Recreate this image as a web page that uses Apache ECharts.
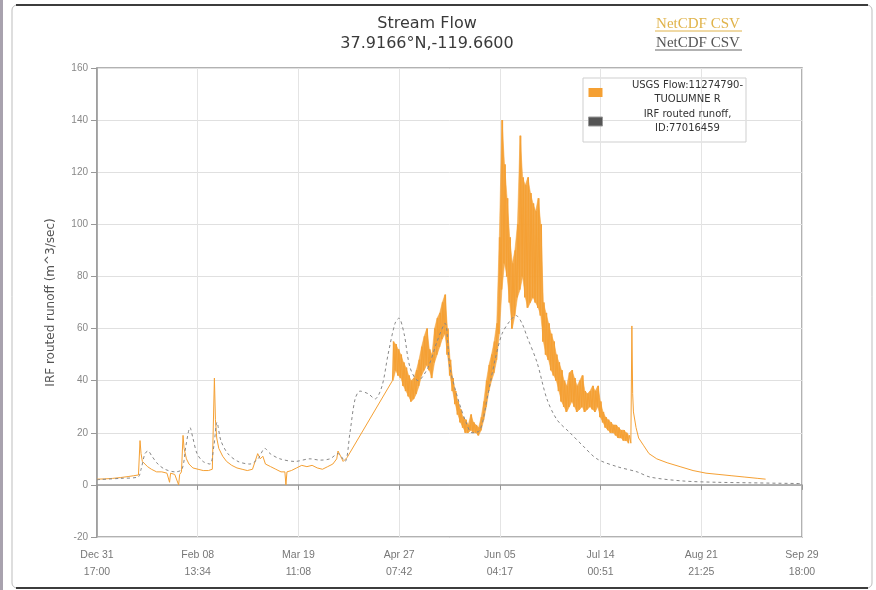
<!DOCTYPE html>
<html>
<head>
<meta charset="utf-8">
<script src="https://cdn.jsdelivr.net/npm/echarts@6/dist/echarts.min.js"></script>
<style>
html,body{margin:0;padding:0;background:#fff;}
#chart{width:876px;height:590px;}
</style>
</head>
<body>
<div id="chart"></div>
<script>
// ---- axis / tick labels ----
const xTickLabels = ['Dec 31\n17:00','Feb 08\n13:34','Mar 19\n11:08','Apr 27\n07:42','Jun 05\n04:17','Jul 14\n00:51','Aug 21\n21:25','Sep 29\n18:00'];
const xMaxDays = 272.0417; // Dec 31 17:00 -> Sep 29 18:00, in days
const yTicks = [-20, 0, 20, 40, 60, 80, 100, 120, 140, 160];

// ---- USGS Flow (days since Dec 31 17:00, m^3/s) ----
const usgsEarlyDays = [0,3,6,9,12,14,16,16.6,17,17.5,18.5,19.5,21,23,25,27,28,28.4,30,31.5,31.9,32.6,33.2,33.6,34.5,35.5,37,39,41,43,44.5,45.3,45.7,46.2,47,48.5,50,52,54,56,58,60,61,62,63,64,65,67,69,71,72.5,72.9,73.3,75,77,79,81,83,85,87,89,91,92.5,93,94,95,96.5];
const usgsEarlyFlow = [2.2,2.3,2.5,2.8,3.2,3.5,3.8,17,12,9,8,7,6,5,5,4.5,1,4.5,4,0,4,5,19,14,10,8,6.5,6,5.5,5.5,6,41,25,18,14,11,9,7.5,6.5,6,5.5,6,9,12,10,11,8,7,6,5,5,0,5,5.5,6.5,7.5,7,7.5,6.5,6,7,8,10,13,11,9,10.5];

// snow-melt period, two readings a day (morning low, evening high)
const meltStartDay = 114;
const meltStepDays = 0.5;
const usgsMeltFlow = [
 40,55, 44,54, 42,52, 41,50, 38,47, 36,45, 34,42, 32,40, 33,41, 35,44,
 38,48, 42,53, 44,57, 46,60, 44,52, 41,50, 47,60, 50,64, 53,66, 56,70,
 58,73, 50,60, 42,48, 36,41, 31,36, 27,32, 24,29, 22,26, 20,25, 20,23,
 21,27, 20,24, 20,23, 19,22, 21,26, 25,32, 30,40, 36,46, 40,50, 43,55,
 48,62, 58,95, 75,140, 85,123, 80,110, 70,95, 60,85, 65,90, 72,100, 75,134,
 80,118, 72,115, 68,118, 70,112, 72,108, 70,105, 68,110, 65,100, 55,70, 50,66,
 48,62, 44,58, 42,55, 40,50, 36,47, 32,44, 30,40, 28,38, 30,43, 32,44,
 30,41, 28,38, 29,40, 30,42, 28,36, 29,35, 30,36, 29,38, 28,36, 30,38,
 26,32, 24,28, 22,26, 21,25, 20,24, 20,23, 19,23, 18,22, 18,21, 17,21,
 17,20, 16,19, 16
];

const usgsLateDays = [206.4,206.7,207,208,209,211,213,216,220,225,230,235,240,245,250,255,258];
const usgsLateFlow = [61,35,28,22,18,15,12,10,8.5,7,5.5,4.5,4,3.5,3,2.5,2.2];

// ---- IRF routed runoff ----
const irfDays = [0,8.9,15.8,17,18.5,19.7,21.2,23.5,26.2,30.1,32.8,34.3,35.9,37,38.6,40.9,43.6,45.1,46.3,47.8,50.5,54.4,59,62.1,64.8,66.8,70.6,76.4,82.2,86.1,89.9,93,95.7,97.6,99.6,101.5,104.6,107.3,110,112.3,115,116.5,118.5,120.8,123.9,127.7,131.2,134.3,136.2,139.3,142.4,144.7,147.8,150.9,153.6,156.3,159.4,161.7,164,165.9,169.8,173.6,177.5,182.5,187.5,192.9,200.7,208.4,213.4,226.1,239.2,252,272];
const irfFlow = [2,2.5,3,6,12,13,11,8,6,5,6,15,22,18,12,9,8,15,24,17,12,9,8,10,14,12,10,9,10,9.5,10,12,9,20,33,36,35,33,38,50,62,64,58,45,40,45,55,62,45,33,24,20,21,35,48,58,63,65,62,57,47,33,25,20,15,10,7,5,3,1.5,1,0.8,0.5];

// ---- build series data ----
const usgsData = [];
usgsEarlyDays.forEach((d, i) => usgsData.push([d, usgsEarlyFlow[i]]));
usgsMeltFlow.forEach((v, i) => usgsData.push([meltStartDay + i * meltStepDays, v]));
usgsLateDays.forEach((d, i) => usgsData.push([d, usgsLateFlow[i]]));
const irfData = irfDays.map((d, i) => [d, irfFlow[i]]);

// daily low/high band of the melt period (same readings, paired per day)
const bandData = [];
for (let k = 0; 2 * k + 1 < usgsMeltFlow.length; k++) {
  bandData.push([meltStartDay + k + 0.25, usgsMeltFlow[2 * k], usgsMeltFlow[2 * k + 1]]);
}

const xInterval = xMaxDays / 7;
const ORANGE = '#f5a033';
const USGS = 'USGS Flow:11274790-\nTUOLUMNE R';
const IRF = 'IRF routed runoff,\nID:77016459';

function renderBand(params, api) {
  const i = params.dataIndexInside;
  if (i >= params.dataInsideLength - 1) return null;
  const d0 = api.value(0, i), lo0 = api.value(1, i), hi0 = api.value(2, i);
  const d1 = api.value(0, i + 1), lo1 = api.value(1, i + 1), hi1 = api.value(2, i + 1);
  const pts = [api.coord([d0, lo0]), api.coord([d1, lo1]), api.coord([d1, hi1]), api.coord([d0, hi0])];
  return {
    type: 'polygon', shape: {points: pts},
    style: {fill: ORANGE, stroke: ORANGE, lineWidth: 0.6, opacity: 0.85}
  };
}

const chart = echarts.init(document.getElementById('chart'), null, {renderer: 'canvas'});
chart.setOption({
  animation: false,
  backgroundColor: '#fff',
  title: {
    text: 'Stream Flow\n37.9166°N,-119.6600',
    left: 427, top: 14, textAlign: 'center', padding: 0,
    textStyle: {fontFamily: 'DejaVu Sans', fontSize: 16, fontWeight: 'normal', color: '#3a3a3a', lineHeight: 20}
  },
  legend: {
    orient: 'vertical', left: 588, top: 78, padding: 0, itemGap: 0,
    itemWidth: 14, itemHeight: 9, icon: 'rect',
    data: [
      {name: USGS, itemStyle: {color: ORANGE}},
      {name: IRF, itemStyle: {color: '#555', borderColor: '#999', borderWidth: 1}}
    ],
    textStyle: {
      fontFamily: 'DejaVu Sans', fontSize: 10, color: '#333', lineHeight: 14.5,
      rich: {c: {width: 160, align: 'center', fontFamily: 'DejaVu Sans', fontSize: 10, color: '#333', lineHeight: 14.5}}
    },
    formatter: function (n) { return n.split('\n').map(s => '{c|' + s + '}').join('\n'); }
  },
  grid: {left: 97, right: 74, top: 68, bottom: 53, show: true, borderColor: '#999', borderWidth: 1.5, backgroundColor: 'transparent'},
  xAxis: {
    type: 'value', min: 0, max: xMaxDays, interval: xInterval,
    axisLine: {show: true, lineStyle: {color: '#999', width: 1.5}},
    axisTick: {show: true, length: 5, lineStyle: {color: '#999'}},
    splitLine: {show: true, lineStyle: {color: '#e4e4e4', width: 1}},
    axisLabel: {
      showMinLabel: true, showMaxLabel: true, margin: 10,
      color: '#777', fontFamily: 'Liberation Sans', fontSize: 10.5, lineHeight: 17,
      formatter: function (v) { return xTickLabels[Math.round(v / xInterval)] || ''; }
    }
  },
  yAxis: {
    type: 'value', min: yTicks[0], max: yTicks[yTicks.length - 1], interval: 20,
    name: 'IRF routed runoff (m^3/sec)', nameLocation: 'middle', nameGap: 40, nameRotate: 90,
    nameTextStyle: {fontFamily: 'DejaVu Sans', fontSize: 12, color: '#555'},
    axisLine: {show: true, lineStyle: {color: '#999', width: 1.5}},
    axisTick: {show: true, length: 6, lineStyle: {color: '#999'}},
    splitLine: {show: true, lineStyle: {color: '#e0e0e0', width: 1}},
    axisLabel: {margin: 9, color: '#888', fontFamily: 'Liberation Sans', fontSize: 10}
  },
  series: [
    {
      name: 'meltBand', type: 'custom', data: bandData, renderItem: renderBand,
      encode: {x: 0, y: [1, 2]}, silent: true, z: 1, clip: true
    },
    {
      name: USGS, type: 'line', data: usgsData,
      showSymbol: false, symbol: 'none', sampling: null,
      lineStyle: {color: ORANGE, width: 1}, itemStyle: {color: ORANGE}, z: 2
    },
    {
      name: IRF, type: 'line', data: irfData,
      showSymbol: false, symbol: 'none', smooth: 0.3,
      lineStyle: {color: '#888', width: 1, type: [3, 3]}, itemStyle: {color: '#555'}, z: 3
    }
  ],
  graphic: [
    {type: 'rect', silent: true, z: -10, shape: {x: 12, y: 5, width: 860, height: 583, r: 5}, style: {fill: 'none', stroke: '#bdbdbd', lineWidth: 1}},
    {type: 'line', silent: true, shape: {x1: 16, y1: 5, x2: 868, y2: 5}, style: {stroke: '#3c3c3c', lineWidth: 2}},
    {type: 'line', silent: true, shape: {x1: 16, y1: 588, x2: 868, y2: 588}, style: {stroke: '#3c3c3c', lineWidth: 2}},
    {type: 'rect', silent: true, shape: {x: 0, y: 0, width: 3, height: 590}, style: {fill: '#a8a2ae'}},
    {type: 'rect', silent: true, shape: {x: 583, y: 78, width: 163, height: 64}, style: {fill: 'none', stroke: '#cfcfcf', lineWidth: 1}},
    {type: 'text', silent: true, style: {x: 698, y: 24, text: 'NetCDF CSV', fill: '#e0b34a', font: '15px "Liberation Serif"', textAlign: 'center', textVerticalAlign: 'middle'}},
    {type: 'line', silent: true, shape: {x1: 655, y1: 31, x2: 742, y2: 31}, style: {stroke: '#e0b34a', lineWidth: 1}},
    {type: 'text', silent: true, style: {x: 698, y: 43, text: 'NetCDF CSV', fill: '#555', font: '15px "Liberation Serif"', textAlign: 'center', textVerticalAlign: 'middle'}},
    {type: 'line', silent: true, shape: {x1: 655, y1: 50, x2: 742, y2: 50}, style: {stroke: '#666', lineWidth: 1}}
  ]
});
</script>
</body>
</html>
